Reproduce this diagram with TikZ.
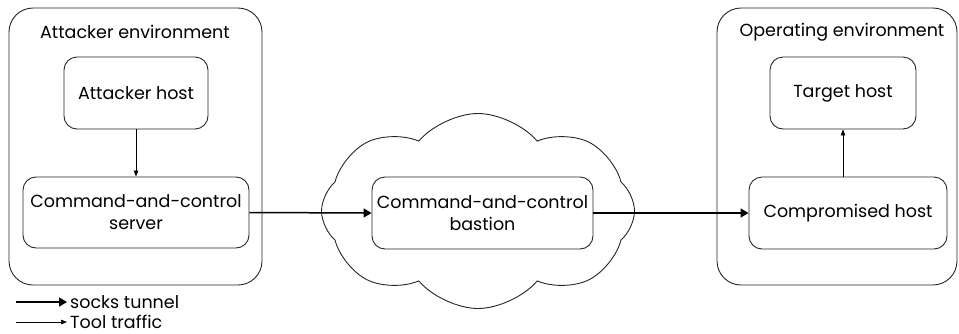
\documentclass[tikz,border=0pt]{standalone}
\usepackage{fontspec}
\setmainfont{Poppins}
\usetikzlibrary{arrows.meta,positioning,shapes.symbols}

\tikzset{
    envbox/.style={draw=black!85, line width=0.9pt, rounded corners=24pt},
    hostbox/.style={draw=black!85, line width=0.9pt, rounded corners=13pt, align=center, inner sep=0pt},
    envlabel/.style={inner sep=0pt},
    tunnel/.style={line width=1.5pt, -{Triangle[length=8pt,width=9pt]}},
    tool/.style={line width=0.7pt, -{Triangle[length=6pt,width=4.5pt]}}
}

\begin{document}
\begin{tikzpicture}[x=1pt, y=-1pt, font=\fontsize{17.5}{22}\selectfont]
    \useasboundingbox (0,0) rectangle (959,333);

    %Environments
    \node (attacker_env) [envbox, minimum width=253pt, minimum height=277pt] at (135.5,146.5) {};
    \node (operating_env) [envbox, minimum width=240pt, minimum height=277pt] at (837,146.5) {};
    \node (attacker_env_label)  [envlabel] at (135,32) {Attacker environment};
    \node (operating_env_label) [envlabel] at (842,32) {Operating environment};

    %Cloud
    \node (bastion_cloud) [cloud, draw=black!85, line width=0.9pt, cloud puffs=8, cloud puff arc=100, aspect=1.6,
        minimum width=313pt, minimum height=195pt] at (478,211) {};

    %Nodes
    \node (attacker_host)    [hostbox, minimum width=144pt, minimum height=72pt] at (136,93)    {Attacker host};
    \node (c2_server)        [hostbox, minimum width=226pt, minimum height=71pt] at (136,212.5) {Command-and-control\\server};
    \node (c2_bastion)       [hostbox, minimum width=221pt, minimum height=72pt] at (482.5,213) {Command-and-control\\bastion};
    \node (target_host)      [hostbox, minimum width=146pt, minimum height=72pt] at (843,93)    {Target host};
    \node (compromised_host) [hostbox, minimum width=198pt, minimum height=72pt] at (848,213)   {Compromised host};

    %Legend
    \coordinate (socks_start) at (16,302);
    \coordinate (tool_start)  at (16,322);
    \node (socks_label) [anchor=west, inner sep=0pt] at (70,302) {socks tunnel};
    \node (tool_label)  [anchor=west, inner sep=0pt] at (70,322) {Tool traffic};

    %Lines
    \draw[tool]   (attacker_host.south)    -- (c2_server.north);
    \draw[tunnel] (c2_server.east)         -- (c2_bastion.west);
    \draw[tunnel] (c2_bastion.east)        -- (compromised_host.west);
    \draw[tool]   (target_host.south |- compromised_host.north) -- (target_host.south);
    \draw[tunnel] (socks_start)            -- ([xshift=-3pt]socks_label.west);
    \draw[tool]   (tool_start)             -- ([xshift=-3pt]tool_label.west);
\end{tikzpicture}
\end{document}
